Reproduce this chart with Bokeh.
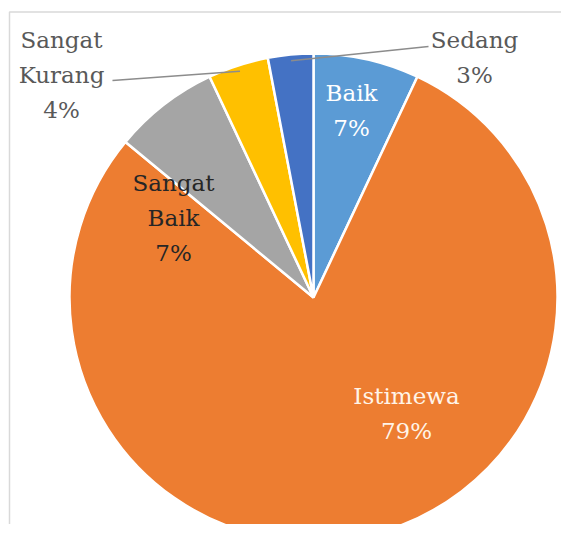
import numpy as np
from bokeh.plotting import figure
from bokeh.models import Range1d, ColumnDataSource
from bokeh.embed import file_html
from bokeh.resources import INLINE
from bokeh.core.properties import value

# ---- data ----
categories = ["Baik", "Istimewa", "Sangat Baik", "Sangat Kurang", "Sedang"]
percentages = [7, 79, 7, 4, 3]

# ---- styling / layout ----
colors = ["#5B9BD5", "#ED7D31", "#A5A5A5", "#FFC000", "#4472C4"]
text_colors = ["#ffffff", "#fff4e8", "#262626", "#595959", "#595959"]
# label block centres in picture pixels (x, y from top)
label_pos = [(351, 110), (406, 413), (173, 217), (61, 74), (474, 57)]
# leader line end points (picture pixels) for outside labels
leader_end = {3: (112, 80), 4: (428, 46)}

W, H = 561, 524
PAGE_H = 540
CX, CY, R = 313, PAGE_H - 297, 244
FONT = "DejaVu Serif"
FS = 23
LINE_SP = 35

p = figure(width=W, height=H, output_backend="svg", toolbar_location=None,
           x_range=Range1d(0, W), y_range=Range1d(PAGE_H - H, PAGE_H),
           min_border=0, background_fill_color="white", border_fill_color="white")
p.axis.visible = False
p.grid.visible = False
p.outline_line_color = None

# frame
p.quad(left=[9], right=[700], top=[PAGE_H - 11.5], bottom=[-200],
       fill_color=None, line_color="#d9d9d9", line_width=1.5)

vals = np.array(percentages, dtype=float)
frac = vals / vals.sum()
cum = np.concatenate([[0], np.cumsum(frac)])
start = np.pi / 2 - 2 * np.pi * cum[:-1]
end = np.pi / 2 - 2 * np.pi * cum[1:]
mid = (start + end) / 2

src = ColumnDataSource(dict(start=start, end=end, color=colors,
                            x=[CX] * len(vals), y=[CY] * len(vals)))
p.wedge(x="x", y="y", radius=R, start_angle="start", end_angle="end",
        direction="clock", fill_color="color", line_color="white",
        line_width=2.5, source=src)

# leader lines
for i, (ex, ey) in leader_end.items():
    sx = CX + 0.975 * R * np.cos(mid[i])
    sy = CY + 0.975 * R * np.sin(mid[i])
    p.line(x=[sx, ex], y=[sy, PAGE_H - ey], line_color="#8c8c8c", line_width=1.5)

# labels
for i, cat in enumerate(categories):
    lines = cat.split(" ") + [f"{percentages[i]}%"]
    lx, ly = label_pos[i]
    n = len(lines)
    ys = [PAGE_H - (ly + (k - (n - 1) / 2) * LINE_SP) for k in range(n)]
    p.text(x=[lx] * n, y=ys, text=lines, text_color=text_colors[i],
           text_font=value(FONT), text_font_size=f"{FS}px",
           text_align="center", text_baseline="middle")

open("out.html", "w").write(file_html(p, INLINE))
